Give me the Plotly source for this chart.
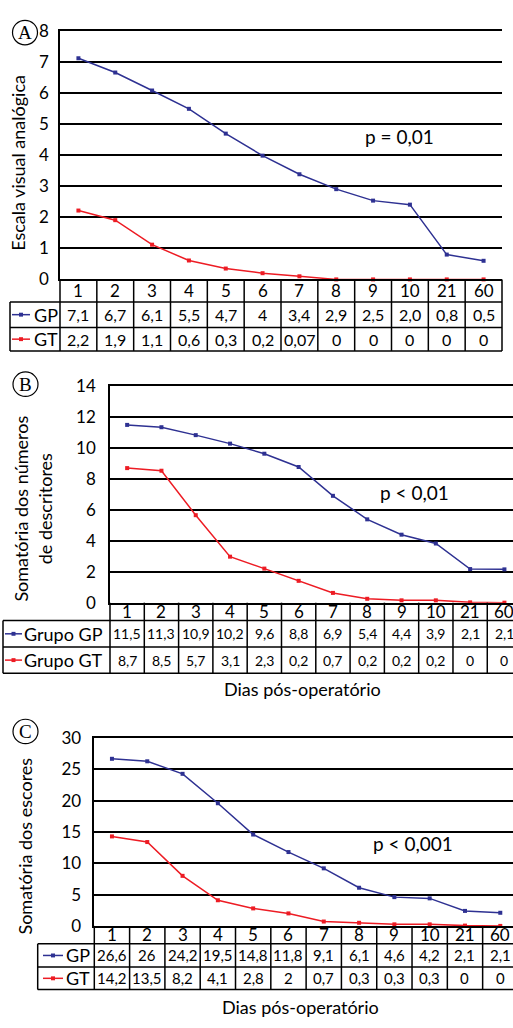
import plotly.graph_objects as go

# ---------------- data ----------------
days = ["1", "2", "3", "4", "5", "6", "7", "8", "9", "10", "21", "60"]

# Panel A: Escala visual analógica (curve values)
a_gp = [7.13, 6.67, 6.09, 5.5, 4.7, 3.99, 3.39, 2.91, 2.54, 2.41, 0.8, 0.6]
a_gt = [2.22, 1.91, 1.12, 0.61, 0.35, 0.2, 0.1, 0, 0, 0, 0, 0]
a_gp_tab = ["7,1", "6,7", "6,1", "5,5", "4,7", "4", "3,4", "2,9", "2,5", "2,0", "0,8", "0,5"]
a_gt_tab = ["2,2", "1,9", "1,1", "0,6", "0,3", "0,2", "0,07", "0", "0", "0", "0", "0"]

# Panel B: Somatória dos números de descritores
b_gp = [11.48, 11.33, 10.82, 10.27, 9.62, 8.76, 6.9, 5.38, 4.39, 3.82, 2.17, 2.15]
b_gt = [8.69, 8.52, 5.65, 2.97, 2.2, 1.41, 0.63, 0.25, 0.15, 0.15, 0.02, 0.0]
b_gp_tab = ["11,5", "11,3", "10,9", "10,2", "9,6", "8,8", "6,9", "5,4", "4,4", "3,9", "2,1", "2,1"]
b_gt_tab = ["8,7", "8,5", "5,7", "3,1", "2,3", "0,2", "0,7", "0,2", "0,2", "0,2", "0", "0"]

# Panel C: Somatória dos escores
c_gp = [26.7, 26.3, 24.3, 19.6, 14.6, 11.8, 9.2, 6.1, 4.6, 4.4, 2.4, 2.1]
c_gt = [14.3, 13.4, 8.0, 4.1, 2.8, 2.0, 0.7, 0.5, 0.25, 0.25, 0.05, 0.0]
c_gp_tab = ["26,6", "26", "24,2", "19,5", "14,8", "11,8", "9,1", "6,1", "4,6", "4,2", "2,1", "2,1"]
c_gt_tab = ["14,2", "13,5", "8,2", "4,1", "2,8", "2", "0,7", "0,3", "0,3", "0,3", "0", "0"]

# ---------------- layout helpers ----------------
W, H = 513, 1028


def fx(p):
    return p / W


def fy(p):
    return 1 - p / H


BLUE = "#2E3192"
RED = "#ED1C24"
FONT = "Lato"
LW = 1.5

panels = [
    dict(letter="A", gp=a_gp, gt=a_gt, gp_tab=a_gp_tab, gt_tab=a_gt_tab,
         ymax=8, dtick=1, x0=60, x1=502, top=20.7, bot=274, xend=11.5,
         rows=[274, 297, 323, 347], left=10, right=502,
         sym=(12, 30), lab_x=32, labels=("GP", "GT"),
         ylabel="Escala visual analógica", ylab=(18, 155),
         circle=(25, 22), ptxt=("p = 0,01", 399, 128), xtitle=None,
         standoff=6, valsize=16, catsize=17, ticksize=17),
    dict(letter="B", gp=b_gp, gt=b_gt, gp_tab=b_gp_tab, gt_tab=b_gt_tab,
         ymax=14, dtick=2, x0=110, x1=513, top=382.7, bot=604, xend=11.25,
         rows=[604, 622.3, 649.3, 676], left=3, right=513,
         sym=(5, 22), lab_x=22, labels=("Grupo GP", "Grupo GT"),
         ylabel="Somatória dos números<br>de descritores", ylab=(33, 508),
         circle=(25.5, 381), ptxt=("p < 0,01", 414, 492), xtitle=("Dias pós-operatório", 302, 692),
         standoff=9, valsize=14, catsize=17, ticksize=17),
    dict(letter="C", gp=c_gp, gt=c_gt, gp_tab=c_gp_tab, gt_tab=c_gt_tab,
         ymax=30, dtick=5, x0=94.3, x1=513, top=742.3, bot=934, xend=11.36,
         rows=[934, 952.3, 976, 999], left=37.7, right=513,
         sym=(43, 63), lab_x=64, labels=("GP", "GT"),
         ylabel="Somatória dos escores", ylab=(25, 853),
         circle=(25.5, 735.5), ptxt=("p < 0,001", 413, 850), xtitle=("Dias pós-operatório", 300, 1017),
         standoff=8, valsize=15, catsize=17, ticksize=17),
]

fig = go.Figure()
shapes = []
annotations = []
layout_axes = {}


def ann(**kw):
    base = dict(showarrow=False, xanchor="center", yanchor="middle")
    base.update(kw)
    annotations.append(base)


for k, p in enumerate(panels):
    n = k + 1
    xa = "x" if n == 1 else f"x{n}"
    ya = "y" if n == 1 else f"y{n}"
    xkey = "xaxis" if n == 1 else f"xaxis{n}"
    ykey = "yaxis" if n == 1 else f"yaxis{n}"

    for vals, col in ((p["gp"], BLUE), (p["gt"], RED)):
        fig.add_trace(go.Scatter(
            x=days, y=vals, mode="lines+markers", xaxis=xa, yaxis=ya,
            line=dict(color=col, width=LW),
            marker=dict(symbol="square", size=4, color=col),
            cliponaxis=False, showlegend=False, hoverinfo="skip"))

    layout_axes[xkey] = dict(
        type="category", domain=[fx(p["x0"]), fx(p["x1"])], range=[-0.5, p["xend"]],
        anchor=ya, showticklabels=False, showgrid=False, zeroline=False,
        showline=True, mirror=True, linecolor="black", linewidth=LW, ticks="")
    layout_axes[ykey] = dict(
        domain=[fy(p["bot"]), fy(p["top"])], range=[0, p["ymax"]], dtick=p["dtick"],
        anchor=xa, showgrid=True, gridcolor="black", gridwidth=LW, zeroline=False,
        showline=True, linecolor="black", linewidth=LW, ticks="",
        ticklabelstandoff=p["standoff"],
        tickfont=dict(family=FONT, size=p["ticksize"], color="black"))

    r = p["rows"]
    # horizontal table lines
    for yy in r[1:]:
        shapes.append(dict(type="line", xref="paper", yref="paper",
                           x0=fx(p["left"]), x1=fx(p["right"]), y0=fy(yy), y1=fy(yy),
                           line=dict(color="black", width=LW)))
    # left border of label column
    shapes.append(dict(type="line", xref="paper", yref="paper",
                       x0=fx(p["left"]), x1=fx(p["left"]), y0=fy(r[1]), y1=fy(r[3]),
                       line=dict(color="black", width=LW)))
    # vertical cell borders (through the category axis)
    for i in range(len(days) + 1):
        xv = i - 0.5
        if i == 0:
            sh = dict(xref=f"{xa} domain", x0=0, x1=0)
        elif abs(xv - p["xend"]) < 1e-6:
            sh = dict(xref=f"{xa} domain", x0=1, x1=1)
        elif xv > p["xend"]:
            continue
        else:
            sh = dict(xref=xa, x0=xv, x1=xv)
        sh.update(type="line", yref="paper", y0=fy(r[0]), y1=fy(r[3]),
                  line=dict(color="black", width=LW))
        shapes.append(sh)

    # table text placed through the category axis (category index)
    rowc = [(r[0] + r[1]) / 2, (r[1] + r[2]) / 2, (r[2] + r[3]) / 2]
    for i, d in enumerate(days):
        ann(x=i, xref=xa, y=fy(rowc[0]), yref="paper", text=d,
            font=dict(family=FONT, size=p["catsize"], color="black"))
        ann(x=i, xref=xa, y=fy(rowc[1]), yref="paper", text=p["gp_tab"][i],
            font=dict(family=FONT, size=p["valsize"], color="black"))
        ann(x=i, xref=xa, y=fy(rowc[2]), yref="paper", text=p["gt_tab"][i],
            font=dict(family=FONT, size=p["valsize"], color="black"))

    # row labels with legend symbols
    for lab, col, yc in ((p["labels"][0], BLUE, rowc[1]), (p["labels"][1], RED, rowc[2])):
        shapes.append(dict(type="line", xref="paper", yref="paper",
                           x0=fx(p["sym"][0]), x1=fx(p["sym"][1]), y0=fy(yc), y1=fy(yc),
                           line=dict(color=col, width=LW)))
        mx = (p["sym"][0] + p["sym"][1]) / 2
        shapes.append(dict(type="rect", xref="paper", yref="paper",
                           x0=fx(mx - 2), x1=fx(mx + 2), y0=fy(yc + 2), y1=fy(yc - 2),
                           line=dict(width=0), fillcolor=col))
        ann(x=fx(p["lab_x"]), y=fy(yc), xref="paper", yref="paper",
            xanchor="left", text=lab, font=dict(family=FONT, size=18, color="black"))

    # y axis title
    ann(x=fx(p["ylab"][0]), y=fy(p["ylab"][1]), xref="paper", yref="paper",
        text=p["ylabel"], textangle=-90, font=dict(family=FONT, size=18, color="black"))
    # p value
    ann(x=fx(p["ptxt"][1]), y=fy(p["ptxt"][2]), xref="paper", yref="paper",
        text=p["ptxt"][0], font=dict(family=FONT, size=19, color="black"))
    # x title
    if p["xtitle"]:
        ann(x=fx(p["xtitle"][1]), y=fy(p["xtitle"][2]), xref="paper", yref="paper",
            text=p["xtitle"][0], font=dict(family=FONT, size=18, color="black"))
    # circled letter
    cx, cy = p["circle"]
    shapes.append(dict(type="circle", xref="paper", yref="paper",
                       x0=fx(cx - 12.5), x1=fx(cx + 12.5), y0=fy(cy + 12.5), y1=fy(cy - 12.5),
                       line=dict(color="black", width=1.2)))
    ann(x=fx(cx), y=fy(cy), xref="paper", yref="paper", text=p["letter"],
        font=dict(family="Liberation Serif", size=19, color="black"))

fig.update_layout(
    width=W, height=H, margin=dict(l=0, r=0, t=0, b=0),
    paper_bgcolor="white", plot_bgcolor="white", showlegend=False,
    shapes=shapes, annotations=annotations, **layout_axes)

# remove the default page margin so the figure sits exactly in the window
fig.write_html(
    "out.html",
    config={"displayModeBar": False},
    post_script="document.body.style.margin='0';"
                "document.documentElement.style.overflow='hidden';",
)
